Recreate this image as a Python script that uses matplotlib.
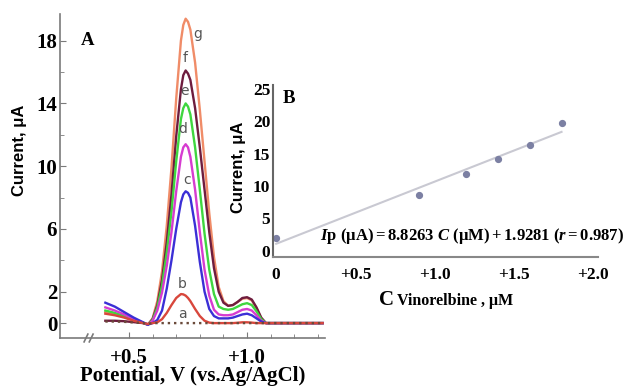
import numpy as np
import matplotlib.pyplot as plt

plt.rcParams['mathtext.fontset'] = 'custom'
plt.rcParams['mathtext.rm'] = 'Liberation Serif:bold'
plt.rcParams['mathtext.it'] = 'Liberation Serif:bold:italic'
plt.rcParams['mathtext.bf'] = 'Liberation Serif:bold'

# --- panel A: DPV curves (potential in V, current in uA) ---
potential = [0.40, 0.44, 0.48, 0.52, 0.56, 0.58, 0.60, 0.62, 0.64, 0.66, 0.68, 0.70,
             0.72, 0.73, 0.74, 0.75, 0.76, 0.78, 0.80, 0.82, 0.84, 0.86, 0.88, 0.90,
             0.92, 0.94, 0.96, 0.98, 1.00, 1.02, 1.04, 1.06, 1.08, 1.12, 1.20, 1.32]
curve_a = [0.1, 0.1, 0.08, 0.04, 0.0, -0.05, 0.0, 0.0, 0.0, 0.0, 0.0, 0.0, 0.0, 0.0,
           0.0, 0.0, 0.0, 0.0, 0.0, 0.0, 0.0, 0.0, 0.0, 0.0, 0.0, 0.0, 0.0, 0.0, 0.0,
           0.0, 0.0, 0.0, 0.0, 0.0, 0.0, 0.0]
curve_b = [0.6, 0.5, 0.35, 0.15, 0.0, -0.05, 0.0, 0.05, 0.25, 0.65, 1.15, 1.6, 1.85,
           1.83, 1.75, 1.6, 1.4, 0.9, 0.45, 0.15, 0.03, 0.0, 0.0, 0.0, 0.0, 0.0, 0.02,
           0.05, 0.05, 0.03, 0.0, 0.0, 0.0, 0.0, 0.0, 0.0]
curve_c = [1.3, 1.05, 0.7, 0.35, 0.05, -0.1, 0.0, 0.2, 0.8, 2.2, 4.0, 6.0, 7.7, 8.2,
           8.4, 8.3, 8.0, 6.2, 3.9, 2.0, 0.9, 0.45, 0.3, 0.3, 0.3, 0.35, 0.45, 0.55,
           0.6, 0.5, 0.3, 0.1, 0.0, 0.0, 0.0, 0.0]
curve_d = [1.0, 0.8, 0.55, 0.25, 0.03, -0.1, 0.15, 0.8, 1.95, 3.65, 5.8, 8.4, 10.6,
           11.2, 11.4, 11.2, 10.6, 8.5, 5.8, 3.4, 1.75, 0.85, 0.55, 0.5, 0.5, 0.55, 0.7,
           0.85, 0.9, 0.8, 0.5, 0.15, 0.0, 0.0, 0.0, 0.0]
curve_e = [0.8, 0.65, 0.45, 0.2, 0.02, -0.1, 0.2, 1.0, 2.4, 4.5, 7.1, 10.3, 13.0, 13.7,
           14.0, 13.8, 13.3, 11.2, 8.5, 5.7, 3.4, 1.85, 1.05, 0.9, 0.85, 0.9, 1.05, 1.2,
           1.27, 1.15, 0.75, 0.25, 0.0, 0.0, 0.0, 0.0]
curve_f = [0.15, 0.15, 0.12, 0.06, 0.0, -0.1, 0.25, 1.15, 2.75, 5.15, 8.2, 11.9, 14.9,
           15.8, 16.1, 15.9, 15.5, 13.7, 11.2, 8.5, 5.8, 3.5, 2.0, 1.3, 1.1, 1.15, 1.35,
           1.6, 1.65, 1.5, 1.0, 0.35, 0.0, 0.0, 0.0, 0.0]
curve_g = [0.7, 0.55, 0.4, 0.2, 0.02, -0.1, 0.3, 1.4, 3.3, 6.2, 9.9, 14.3, 18.0, 19.0,
           19.4, 19.2, 18.7, 16.6, 13.6, 10.3, 7.0, 4.2, 2.3, 1.4, 1.1, 1.15, 1.35, 1.55,
           1.6, 1.45, 0.95, 0.3, 0.0, 0.0, 0.0, 0.0]

# --- panel B: calibration points ---
conc = [0.0, 0.9, 1.2, 1.4, 1.6, 1.8]          # uM
ip = [1.9, 8.6, 11.9, 14.2, 16.3, 19.7]          # uA

serif = 'Liberation Serif'
sans = 'Liberation Sans'
spine_col = '#7a7a7a'

fig = plt.figure(figsize=(6.25, 3.87), dpi=100)

# ---------------- panel A ----------------
axA = fig.add_axes([60/625, 1-338/387, 265/625, 324/387])
curves = [
    ('g', curve_g, '#f08c68', '-'),
    ('f', curve_f, '#6e1d3e', '-'),
    ('e', curve_e, '#3fd63f', '-'),
    ('d', curve_d, '#d63cd0', '-'),
    ('c', curve_c, '#3b2fd6', '-'),
    ('b', curve_b, '#d8473c', '-'),
    ('a', curve_a, '#6a4a3a', ':'),
]
for name, vals, col, ls in curves:
    axA.plot(potential, vals, color=col, lw=1.7, ls=ls, solid_joinstyle='round')

label_pos = {'g': (0.79, 18.4), 'f': (0.737, 16.9), 'e': (0.737, 14.8),
             'd': (0.727, 12.4), 'c': (0.745, 9.1), 'b': (0.727, 2.5), 'a': (0.727, 0.6)}
for k, (x, y) in label_pos.items():
    axA.text(x, y, k, color='#555555', fontsize=10, ha='center', va='center',
             family='DejaVu Sans')

axA.set_xlim(0.208, 1.33)
axA.set_ylim(-0.95, 19.7)
axA.set_yticks([0, 2, 6, 10, 14, 18])
axA.set_yticks([4, 8, 12, 16], minor=True)
axA.set_xticks([0.5, 1.0])
axA.set_xticklabels(['+0.5', '+1.0'])
axA.set_xticks(np.arange(0.6, 1.31, 0.1), minor=True)
for s in ['top', 'right']:
    axA.spines[s].set_visible(False)
for s in ['left', 'bottom']:
    axA.spines[s].set_color(spine_col)
    axA.spines[s].set_linewidth(1.2)
axA.tick_params(which='both', direction='in', color=spine_col)
axA.tick_params(which='major', length=4)
axA.tick_params(which='minor', length=3)
axA.tick_params(axis='y', pad=2)
axA.tick_params(axis='x', pad=7)
for t in axA.get_xticklabels() + axA.get_yticklabels():
    t.set_fontfamily(serif)
    t.set_fontweight('bold')
    t.set_fontsize(15)

# axis break marks
for xb in [0.318, 0.340]:
    axA.plot([xb - 0.008, xb + 0.008], [-0.012, 0.012], color=spine_col, lw=1.2,
             transform=axA.get_xaxis_transform(), clip_on=False)

axA.text(0.325, 18.0, 'A', fontsize=13.5, fontweight='bold', family=serif,
         ha='center', va='center')
fig.text(193/625, 1-376/387, 'Potential, V (vs.Ag/AgCl)', fontsize=15,
         fontweight='bold', family=serif, ha='center', va='center')
fig.text(20/625, 1-150/387, 'Current, \u03bcA', fontsize=12, fontweight='bold',
         family=sans, rotation=90, ha='center', va='center')

# ---------------- panel B ----------------
axB = fig.add_axes([273/625, 1-257/387, 325/625, 172/387])
axB.set_facecolor('none')
coef = np.polyfit(conc, ip, 1)
xfit = np.array([0.0, conc[-1]])
axB.plot(xfit, np.polyval(coef, xfit), color='#c9c9d2', lw=1.5)
axB.plot(conc, ip, 'o', color='#7c80a3', ms=4.2, clip_on=False)
axB.set_xlim(-0.02, 2.03)
axB.set_ylim(-1.0, 25.6)
axB.set_xticks([0, 0.5, 1.0, 1.5, 2.0])
axB.set_xticklabels(['0', '+0.5', '+1.0', '+1.5', '+2.0'])
axB.set_yticks([0, 5, 10, 15, 20, 25])
for s in ['top', 'right']:
    axB.spines[s].set_visible(False)
axB.spines['left'].set_color('#666666')
axB.spines['bottom'].set_color('#888888')
axB.spines['left'].set_linewidth(1.5)
axB.spines['bottom'].set_linewidth(1.5)
axB.tick_params(length=0)
axB.tick_params(axis='y', pad=2)
axB.tick_params(axis='x', pad=7)
for t in axB.get_xticklabels() + axB.get_yticklabels():
    t.set_fontfamily(serif)
    t.set_fontweight('bold')
    t.set_fontsize(12.5)

axB.text(0.03, 0.92, 'B', transform=axB.transAxes, fontsize=13.5, fontweight='bold',
         family=serif, ha='left', va='center')
fig.text(320/625, 1-236/387,
         r'$I\mathrm{p\ (\mu A) = 8.8263\ }C\mathrm{\ (\mu M) + 1.9281\ (}r\mathrm{ = 0.987)}$',
         fontsize=12, ha='left', va='center')
fig.text(239/625, 1-167/387, 'Current, \u03bcA', fontsize=12, fontweight='bold',
         family=sans, rotation=90, ha='center', va='center')
fig.text(379/625, 1-305/387, 'C', fontsize=15, fontweight='bold', family=serif,
         ha='left', va='baseline')
fig.text(397/625, 1-305/387, 'Vinorelbine , \u03bcM', fontsize=11.5, fontweight='bold',
         family=serif, ha='left', va='baseline')

fig.savefig('out.png', dpi=100)
